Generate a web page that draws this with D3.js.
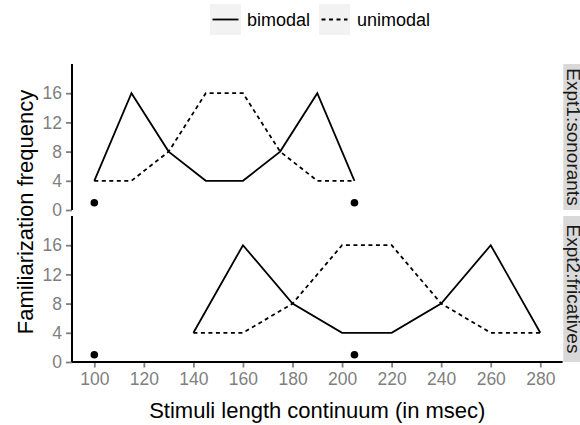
<!DOCTYPE html>
<html>
<head>
<meta charset="utf-8">
<script src="https://cdn.jsdelivr.net/npm/d3@7"></script>
<style>
  body { margin: 0; background: #fff; }
  text { font-family: "Liberation Sans", Arial, Helvetica, sans-serif; }
</style>
</head>
<body>
<div id="chart"></div>
<script>
// facet panels
var panelNames = ["Expt1:sonorants", "Expt2:fricatives"];

// stimuli per panel (msec) and familiarization frequencies
var stimSonorants = [100, 115, 130, 145, 160, 175, 190, 205];
var bimodalSonorants = [4, 16, 8, 4, 4, 8, 16, 4];
var unimodalSonorants = [4, 4, 8, 16, 16, 8, 4, 4];

var stimFricatives = [140, 160, 180, 200, 220, 240, 260, 280];
var bimodalFricatives = [4, 16, 8, 4, 4, 8, 16, 4];
var unimodalFricatives = [4, 4, 8, 16, 16, 8, 4, 4];

// endpoint markers (same in both panels)
var dotX = [100, 205];
var dotY = [1, 1];

var xTicks = [100, 120, 140, 160, 180, 200, 220, 240, 260, 280];
var yTicks = [0, 4, 8, 12, 16];
var seriesNames = ["bimodal", "unimodal"];

var W = 580, H = 425;
var left = 72, right = 562.6;
var panelTops = [64, 216];
var panelH = 146;
var tickColor = "#7f7f7f";

var svg = d3.select("#chart").append("svg")
  .attr("width", W).attr("height", H);

var x = d3.scaleLinear().domain([91, 289]).range([left, right]);

var panelData = [
  { name: panelNames[0], stim: stimSonorants, bi: bimodalSonorants, uni: unimodalSonorants },
  { name: panelNames[1], stim: stimFricatives, bi: bimodalFricatives, uni: unimodalFricatives }
];

var dashes = { bimodal: null, unimodal: "4,3.5" };

panelData.forEach(function (p, i) {
  var top = panelTops[i];
  var y = d3.scaleLinear().domain([0, 20]).range([top + panelH, top]);
  var g = svg.append("g");

  // strip on the right (cut by the page edge, as in the original)
  g.append("rect")
    .attr("x", 563.3).attr("y", top)
    .attr("width", 40).attr("height", panelH)
    .attr("fill", "#d9d9d9");
  g.append("text")
    .attr("transform", "translate(566.5," + (top + panelH / 2) + ") rotate(90)")
    .attr("text-anchor", "middle")
    .attr("font-size", 19)
    .attr("fill", "#1a1a1a")
    .text(p.name);

  // y axis
  var yAxis = d3.axisLeft(y).tickValues(yTicks).tickSize(6).tickPadding(4).tickSizeOuter(0);
  var ya = g.append("g").attr("transform", "translate(" + left + ",0)").call(yAxis);
  ya.select(".domain").remove();
  ya.selectAll(".tick line").attr("stroke", tickColor).attr("stroke-width", 1.8);
  ya.selectAll(".tick text").attr("fill", tickColor).attr("font-size", 17.5)
    .attr("font-family", "Liberation Sans, Arial, sans-serif");
  g.append("line")
    .attr("x1", left).attr("x2", left)
    .attr("y1", top).attr("y2", top + panelH)
    .attr("stroke", "#000").attr("stroke-width", 2);

  // lines
  var line = d3.line()
    .x(function (d) { return x(d[0]); })
    .y(function (d) { return y(d[1]); });

  [["bimodal", p.bi], ["unimodal", p.uni]].forEach(function (s) {
    var pts = p.stim.map(function (v, k) { return [v, s[1][k]]; });
    g.append("path")
      .datum(pts)
      .attr("d", line)
      .attr("fill", "none")
      .attr("stroke", "#000")
      .attr("stroke-width", 1.8)
      .attr("stroke-dasharray", dashes[s[0]]);
  });

  // dots
  g.selectAll(".dot")
    .data(dotX.map(function (v, k) { return [v, dotY[k]]; }))
    .enter().append("circle")
    .attr("cx", function (d) { return x(d[0]); })
    .attr("cy", function (d) { return y(d[1]); })
    .attr("r", 3.8)
    .attr("fill", "#000");

  // x axis only under the last panel
  if (i === panelData.length - 1) {
    var xAxis = d3.axisBottom(x).tickValues(xTicks).tickSize(5.5).tickPadding(5).tickSizeOuter(0);
    var xa = g.append("g").attr("transform", "translate(0," + (top + panelH) + ")").call(xAxis);
    xa.select(".domain").remove();
    xa.selectAll(".tick line").attr("stroke", tickColor).attr("stroke-width", 1.8);
    xa.selectAll(".tick text").attr("fill", tickColor).attr("font-size", 17.5)
      .attr("font-family", "Liberation Sans, Arial, sans-serif");
    g.append("line")
      .attr("x1", left).attr("x2", right)
      .attr("y1", top + panelH).attr("y2", top + panelH)
      .attr("stroke", "#000").attr("stroke-width", 2);
  }
});

// axis titles
svg.append("text")
  .attr("x", (left + right) / 2).attr("y", 418)
  .attr("text-anchor", "middle")
  .attr("font-size", 22)
  .text("Stimuli length continuum (in msec)");

svg.append("text")
  .attr("transform", "translate(33," + 212 + ") rotate(-90)")
  .attr("text-anchor", "middle")
  .attr("font-size", 22)
  .text("Familiarization frequency");

// legend
var legendKeys = [210, 319];
var legendText = [247, 357];
seriesNames.forEach(function (name, i) {
  var lg = svg.append("g");
  lg.append("rect")
    .attr("x", legendKeys[i]).attr("y", 4)
    .attr("width", 31).attr("height", 31)
    .attr("fill", "#f2f2f2");
  lg.append("line")
    .attr("x1", legendKeys[i] + 2.5).attr("x2", legendKeys[i] + 28.5)
    .attr("y1", 19.5).attr("y2", 19.5)
    .attr("stroke", "#000").attr("stroke-width", 1.8)
    .attr("stroke-dasharray", dashes[name]);
  lg.append("text")
    .attr("x", legendText[i]).attr("y", 26)
    .attr("font-size", 18)
    .text(name);
});
</script>
</body>
</html>
